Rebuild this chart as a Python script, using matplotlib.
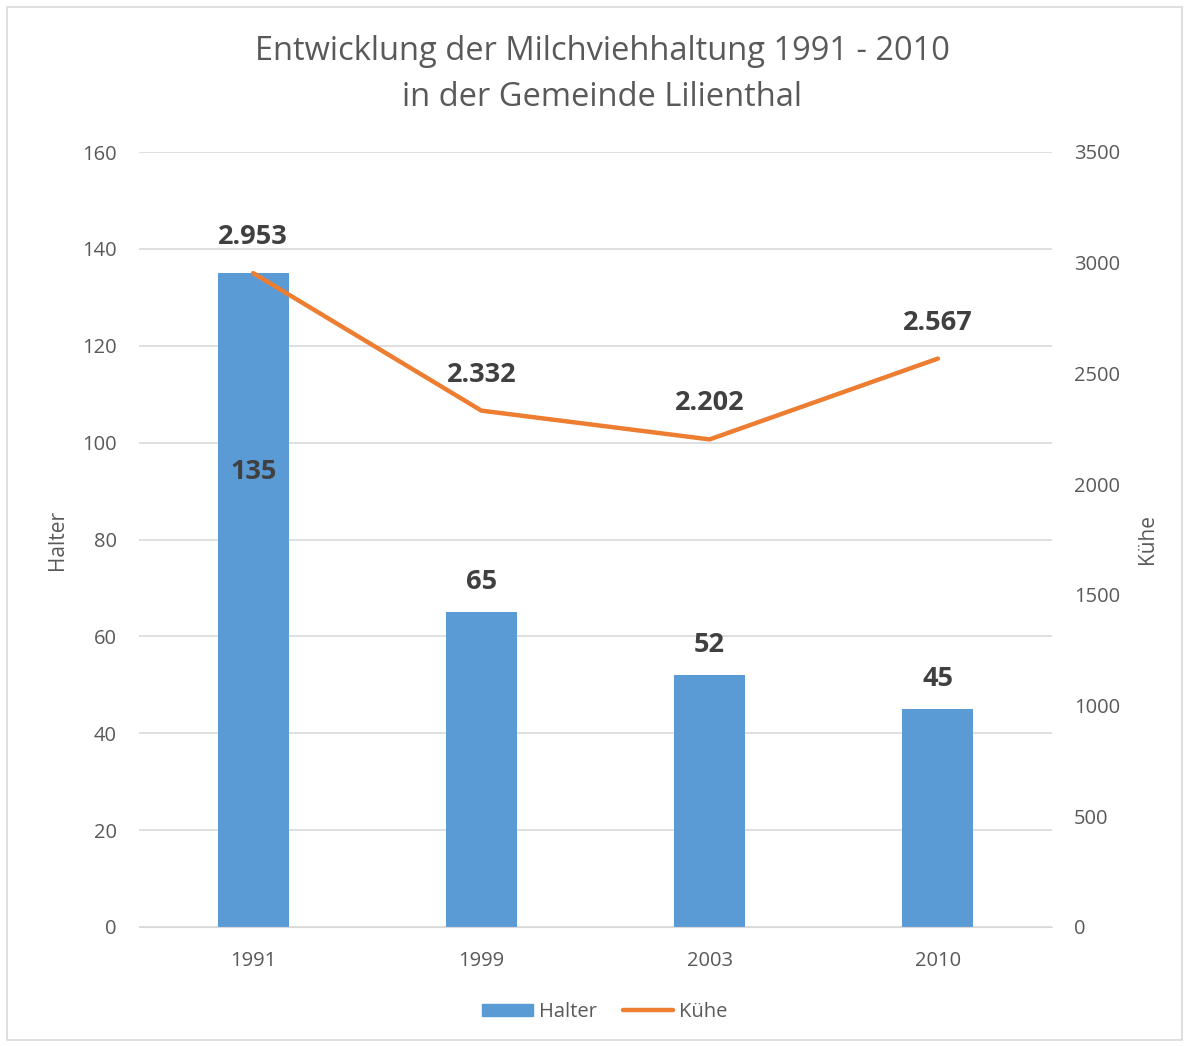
import matplotlib
matplotlib.use("Agg")
import matplotlib.pyplot as plt
from matplotlib.patches import Rectangle

years = ["1991", "1999", "2003", "2010"]
halter = [135, 65, 52, 45]
kuehe = [2953, 2332, 2202, 2567]
kuehe_labels = ["2.953", "2.332", "2.202", "2.567"]
left_ticks = [0, 20, 40, 60, 80, 100, 120, 140, 160]
right_ticks = [0, 500, 1000, 1500, 2000, 2500, 3000, 3500]

plt.rcParams['font.family'] = ['Open Sans', 'DejaVu Sans']
txt = '#595959'
lab = '#404040'
bar_c = '#5B9BD5'
line_c = '#ED7D31'

fig = plt.figure(figsize=(11.89, 10.46), dpi=100)
fig.patches.append(Rectangle((7/1189, 1-1040/1046), 1175/1189, 1033/1046,
                             transform=fig.transFigure, fill=False,
                             edgecolor='#D9D9D9', lw=1.2))
ax = fig.add_axes([139/1189, 1-927/1046, 913/1189, 775/1046])
ax2 = ax.twinx()

x = list(range(len(years)))
ax.bar(x, halter, width=0.31, color=bar_c, zorder=2)
ax.set_xlim(-0.5, 3.5)
ax.set_ylim(0, 160)
ax.set_yticks(left_ticks)
ax.grid(axis='y', color='#D9D9D9', lw=1.2, zorder=0)
ax.set_axisbelow(True)
ax.set_xticks(x)
ax.set_xticklabels(years)
for s in ax.spines.values():
    s.set_visible(False)
for s in ax2.spines.values():
    s.set_visible(False)
ax.spines['bottom'].set_visible(True)
ax.spines['bottom'].set_color('#D9D9D9')
ax.tick_params(axis='both', length=0, colors=txt, labelsize=14.5)
ax.tick_params(axis='x', pad=17)
ax.tick_params(axis='y', pad=16)

ax2.plot(x, kuehe, color=line_c, lw=3.2, solid_capstyle='round', zorder=3)
ax2.set_ylim(0, 3500)
ax2.set_yticks(right_ticks)
ax2.tick_params(axis='y', length=0, colors=txt, labelsize=14.5, pad=16)

# bar labels
for i, v in enumerate(halter):
    if i == 0:
        ax.text(i, 94, str(v), ha='center', va='center', fontsize=19.5,
                fontweight='bold', color=lab, zorder=5)
    else:
        ax.annotate(str(v), (i, v), xytext=(0, 30), textcoords='offset pixels',
                    ha='center', va='center', fontsize=19.5, fontweight='bold', color=lab)
for i, v in enumerate(kuehe):
    ax2.annotate(kuehe_labels[i], (i, v), xytext=(0, 36), textcoords='offset pixels',
                 ha='center', va='center', fontsize=19.5, fontweight='bold', color=lab)

ax.set_ylabel("Halter", color=txt, fontsize=15, labelpad=10)
ax2.set_ylabel("Kühe", color=txt, fontsize=15, labelpad=12)

fig.text(602/1189, 1-51/1046, "Entwicklung der Milchviehhaltung 1991 - 2010",
         ha='center', va='center', fontsize=23.5, color=txt)
fig.text(602/1189, 1-97/1046, "in der Gemeinde Lilienthal",
         ha='center', va='center', fontsize=23.5, color=txt)

h1 = plt.Rectangle((0, 0), 1, 1, color=bar_c)
h2, = ax.plot([], [], color=line_c, lw=3.2, solid_capstyle='round')
leg = fig.legend([h1, h2], ["Halter", "Kühe"], loc='center',
                 bbox_to_anchor=(605/1189, 1-1012/1046), ncol=2, frameon=False,
                 fontsize=14.5, handlelength=2.5, handleheight=0.6, columnspacing=1.3,
                 handletextpad=0.3)
for t in leg.get_texts():
    t.set_color(txt)

fig.savefig("out.png", dpi=100)
